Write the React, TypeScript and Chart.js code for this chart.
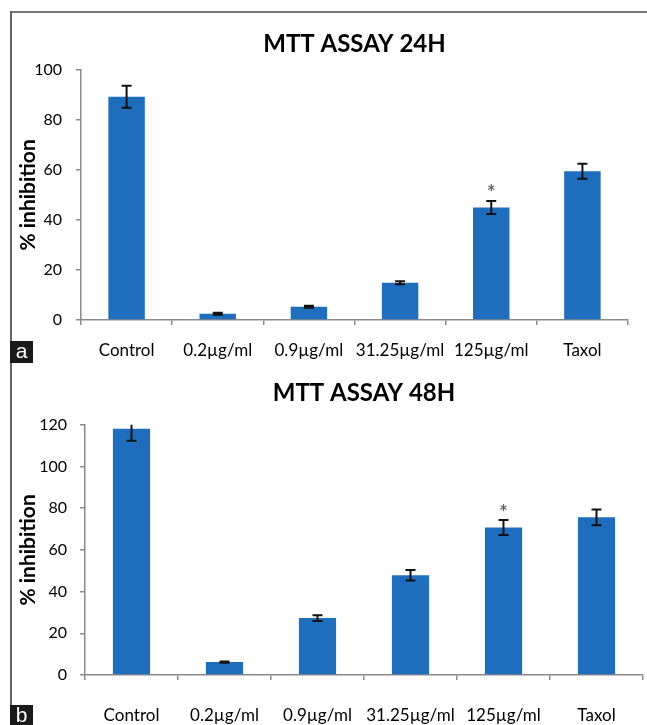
import React, { useEffect, useRef } from "react";
import { Chart, registerables } from "chart.js";

Chart.register(...registerables);

const categories = ["Control", "0.2µg/ml", "0.9µg/ml", "31.25µg/ml", "125µg/ml", "Taxol"];

const values24 = [89.2, 2.5, 5.3, 14.9, 45.0, 59.5];
const errors24 = [4.4, 0.4, 0.4, 0.6, 2.6, 3.0];
const ticks24 = [0, 20, 40, 60, 80, 100];

const values48 = [118.1, 6.2, 27.3, 47.8, 70.7, 75.6];
const errors48 = [5.8, 0.3, 1.4, 2.5, 3.6, 3.8];
const ticks48 = [0, 20, 40, 60, 80, 100, 120];

const significant = [false, false, false, false, true, false];

const BAR_COLOR = "#1f6dbd";
const AXIS_COLOR = "#8a8a8a";
const FONT = "Lato, 'Open Sans', sans-serif";

const errorBarPlugin = {
  id: "errorBars",
  afterDatasetsDraw(chart: any, _args: any, opts: any) {
    const { ctx, chartArea } = chart;
    const meta = chart.getDatasetMeta(0);
    const yScale = chart.scales.y;
    const data = chart.data.datasets[0].data as number[];
    const errs: number[] = opts.errors || [];
    const stars: boolean[] = opts.stars || [];
    ctx.save();
    ctx.beginPath();
    ctx.rect(chartArea.left, chartArea.top, chartArea.right - chartArea.left, chartArea.bottom - chartArea.top);
    ctx.clip();
    ctx.strokeStyle = "#111";
    ctx.lineWidth = 2;
    meta.data.forEach((bar: any, i: number) => {
      const v = data[i];
      const e = errs[i] || 0;
      const x = bar.x;
      const yt = yScale.getPixelForValue(v + e);
      const yb = yScale.getPixelForValue(v - e);
      ctx.beginPath();
      ctx.moveTo(x, yt);
      ctx.lineTo(x, yb);
      ctx.moveTo(x - 5, yt);
      ctx.lineTo(x + 5, yt);
      ctx.moveTo(x - 5, yb);
      ctx.lineTo(x + 5, yb);
      ctx.stroke();
    });
    ctx.restore();
    ctx.save();
    ctx.fillStyle = "#666";
    ctx.font = `bold 20px ${FONT}`;
    ctx.textAlign = "center";
    ctx.textBaseline = "middle";
    meta.data.forEach((bar: any, i: number) => {
      if (!stars[i]) return;
      const yt = yScale.getPixelForValue(data[i] + (errs[i] || 0));
      ctx.fillText("*", bar.x, yt - 7);
    });
    ctx.restore();
  },
};

type PanelProps = {
  title: string;
  values: number[];
  errors: number[];
  ticks: number[];
  width: number;
  height: number;
  yAxisWidth: number;
  xAxisHeight: number;
  rightPad: number;
  titlePadTop: number;
  titlePadBottom: number;
  xLabelPad: number;
  yLabelPad: number;
  top: number;
};

function Panel(p: PanelProps) {
  const ref = useRef<HTMLCanvasElement | null>(null);
  useEffect(() => {
    if (!ref.current) return;
    const chart = new Chart(ref.current, {
      type: "bar",
      data: {
        labels: categories,
        datasets: [
          {
            data: p.values,
            backgroundColor: BAR_COLOR,
            borderWidth: 0,
            categoryPercentage: 1,
            barPercentage: 0.4,
          },
        ],
      },
      options: {
        responsive: false,
        animation: false,
        devicePixelRatio: 1,
        layout: { padding: { left: 0, right: p.rightPad, top: 0, bottom: 0 } },
        plugins: {
          legend: { display: false },
          tooltip: { enabled: false },
          title: {
            display: true,
            text: p.title,
            fullSize: false,
            color: "#000",
            font: { family: FONT, size: 24, weight: "bold" },
            padding: { top: p.titlePadTop, bottom: p.titlePadBottom },
          },
          errorBars: { errors: p.errors, stars: significant },
        } as any,
        scales: {
          x: {
            offset: true,
            grid: {
              display: true,
              drawOnChartArea: false,
              drawTicks: true,
              tickLength: 5,
              color: AXIS_COLOR,
              lineWidth: 1.5,
              offset: true,
            },
            border: { display: true, color: AXIS_COLOR, width: 1.5 },
            ticks: {
              color: "#000",
              font: { family: FONT, size: 17 },
              padding: p.xLabelPad,
              maxRotation: 0,
              autoSkip: false,
            },
            afterFit: (s: any) => {
              s.height = p.xAxisHeight;
            },
          },
          y: {
            min: p.ticks[0],
            max: p.ticks[p.ticks.length - 1],
            grid: {
              display: true,
              drawOnChartArea: false,
              drawTicks: true,
              tickLength: 5,
              color: AXIS_COLOR,
              lineWidth: 1.5,
            },
            border: { display: true, color: AXIS_COLOR, width: 1.5 },
            ticks: {
              color: "#000",
              font: { family: FONT, size: 16 },
              padding: p.yLabelPad,
            },
            afterBuildTicks: (s: any) => {
              s.ticks = p.ticks.map((v) => ({ value: v }));
            },
            title: {
              display: true,
              text: "% inhibition",
              color: "#000",
              font: { family: FONT, size: 21, weight: "bold" },
              padding: { top: 16, bottom: 0 },
            },
            afterFit: (s: any) => {
              s.width = p.yAxisWidth;
            },
          },
        },
      },
      plugins: [errorBarPlugin as any],
    });
    return () => chart.destroy();
  }, []);
  return (
    <canvas
      ref={ref}
      width={p.width}
      height={p.height}
      style={{ position: "absolute", left: 0, top: p.top, width: p.width, height: p.height }}
    />
  );
}

const tagStyle: React.CSSProperties = {
  position: "absolute",
  left: 10,
  width: 23,
  height: 22,
  background: "#1a1a1a",
  color: "#fff",
  fontFamily: "'Liberation Sans', Arial, sans-serif",
  fontSize: 21,
  lineHeight: "20px",
  textAlign: "center",
};

export default function App() {
  return (
    <div
      style={{
        position: "fixed",
        left: 0,
        top: 0,
        width: 647,
        height: 725,
        background: "#fff",
        overflow: "hidden",
      }}
    >
      <Panel
        title="MTT ASSAY 24H"
        values={values24}
        errors={errors24}
        ticks={ticks24}
        width={647}
        height={362}
        yAxisWidth={81}
        xAxisHeight={42}
        rightPad={19}
        titlePadTop={30}
        titlePadBottom={11}
        xLabelPad={15}
        yLabelPad={14}
        top={0}
      />
      <Panel
        title="MTT ASSAY 48H"
        values={values48}
        errors={errors48}
        ticks={ticks48}
        width={647}
        height={363}
        yAxisWidth={85}
        xAxisHeight={50}
        rightPad={4}
        titlePadTop={17}
        titlePadBottom={17}
        xLabelPad={25}
        yLabelPad={13}
        top={362}
      />
      <div style={{ position: "absolute", left: 10, top: 11, width: 637, height: 0, borderTop: "2px solid #777" }} />
      <div style={{ position: "absolute", left: 10, top: 11, width: 0, height: 714, borderLeft: "2px solid #666" }} />
      <div style={{ ...tagStyle, top: 341 }}>a</div>
      <div style={{ ...tagStyle, top: 705 }}>b</div>
    </div>
  );
}
